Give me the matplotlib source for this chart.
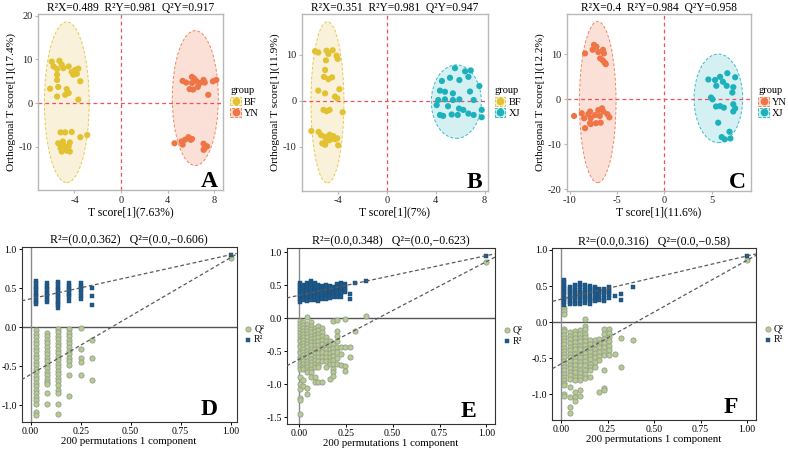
import numpy as np
import matplotlib.pyplot as plt
from matplotlib.patches import Ellipse, Patch
from matplotlib.lines import Line2D

plt.rcParams['font.family'] = ['Liberation Serif', 'DejaVu Serif']
plt.rcParams['axes.unicode_minus'] = False

# group colours (points / ellipse fill)
pt_col = {'BF': '#e2c230', 'YN': '#ef7547', 'XJ': '#1db2bb'}
fill_col = {'BF': '#f9efd3', 'YN': '#fbdbd0', 'XJ': '#cdeef1'}

# ---- OPLS-DA score data ----
a_bf_x = [-5.96, -5.3, -5.8, -5.5, -4.96, -4.5, -5.1, -3.95, -3.67, -4.24, -3.8, -4.1, -5.5, -3.5,
          -5.5, -6.1, -5.4, -4.67, -4.5, -4.8, -5.5, -3.67,
          -5.2, -4.8, -4.24, -5.4, -5.1, -4.8, -5.2, -4.5, -4.67, -5.1, -4.4, -3.5, -2.9, -5.0, -4.4]
a_bf_y = [9.5, 9.7, 8.4, 7.8, 8.0, 8.4, 8.8, 7.6, 7.9, 7.1, 6.7, 6.5, 6.5, 5.0,
          5.3, 3.3, 3.7, 3.2, 2.3, 1.9, 1.5, 0.8,
          -6.7, -6.7, -6.6, -9.2, -9.3, -9.9, -10.3, -9.9, -10.9, -11.1, -11.1, -7.8, -7.3, -8.8, -9.0]
a_yn_x = [5.3, 5.6, 6.1, 6.3, 6.5, 7.1, 7.2, 7.9, 8.2, 5.9, 6.2, 6.6, 7.5, 6.1, 6.8,
          4.6, 5.2, 5.5, 5.8, 6.1, 5.3, 6.0, 7.1, 7.2, 7.1, 7.4]
a_yn_y = [5.1, 4.7, 6.0, 5.6, 5.0, 5.3, 4.7, 5.0, 5.3, 3.2, 3.1, 3.7, 1.9, 4.6, 4.6,
          -9.2, -8.8, -8.4, -7.8, -8.2, -9.5, -8.4, -9.3, -10.3, -10.7, -9.9]

b_bf_x = [-5.9, -5.63, -4.95, -4.45, -4.8, -4.13, -5.0, -4.04, -5.07, -5.16, -4.8, -4.5, -5.63, -5.07,
          -3.9, -4.26, -4.07, -5.2, -4.95, -4.7, -3.63, -6.2, -5.6, -5.4, -5.07, -4.7, -4.4, -5.3,
          -5.0, -4.7, -4.26, -4.07, -4.0, -5.07]
b_bf_y = [10.8, 10.5, 10.9, 11.0, 10.2, 9.8, 8.8, 9.1, 6.7, 5.2, 4.7, 5.1, 2.2, 1.6,
          2.5, 0.9, 0.5, -2.0, -2.3, -2.0, -2.5, -6.6, -6.8, -7.5, -7.9, -7.4, -7.7, -9.3,
          -8.9, -8.6, -8.4, -8.2, -9.7, -9.6]
b_xj_x = [5.57, 6.4, 6.86, 6.67, 5.16, 5.93, 4.5, 7.57, 4.34, 4.75, 5.4, 6.8, 4.2, 4.75, 5.4,
          5.93, 7.1, 4.07, 5.0, 5.9, 6.25, 4.34, 4.6, 5.3, 5.8, 6.67, 7.1, 7.76, 7.76]
b_xj_y = [7.1, 6.4, 6.6, 5.2, 5.0, 4.5, 4.3, 3.2, 2.2, 1.95, 1.6, 2.0, 0.15, 0.3, 0.15,
          0.3, 0.15, -0.95, -1.2, -1.7, -2.0, -3.1, -3.3, -3.0, -3.1, -2.8, -3.1, -2.0, -3.6]

c_yn_x = [-8.4, -7.45, -7.2, -7.6, -7.0, -6.5, -6.4, -6.8, -6.5, -6.3, -6.2,
          -9.56, -8.75, -8.5, -8.05, -7.87, -7.8, -7.34, -7.0, -6.6, -6.84, -6.46, -6.04, -5.82,
          -7.24, -6.74, -7.87, -8.4, -7.8]
c_yn_y = [10.2, 12.1, 11.7, 11.0, 10.5, 11.0, 10.2, 9.1, 8.6, 8.1, 7.8,
          -3.7, -3.1, -4.2, -3.3, -2.7, -4.2, -3.5, -2.4, -2.0, -3.7, -2.7, -3.3, -4.0,
          -5.3, -5.2, -5.3, -6.4, -5.5]
c_xj_x = [4.66, 5.37, 5.9, 6.67, 7.5, 6.2, 5.5, 6.6, 7.3, 7.2, 4.94, 5.1, 5.9, 6.3, 5.47,
          7.3, 7.5, 7.3, 5.7, 6.9, 6.07, 7.0, 6.4]
c_xj_y = [4.4, 4.3, 5.0, 5.8, 4.9, 3.9, 3.0, 3.0, 2.7, 1.5, 0.4, 0.0, -1.5, -1.85, -1.6,
          -1.1, -2.0, -2.7, -5.2, -7.2, -8.4, -8.7, -8.9]

# confidence ellipses: centre x, centre y, width, height (data units)
a_ell = {'BF': [-4.66, 0.2, 3.85, 36.8], 'YN': [6.39, 1.15, 3.96, 30.9]}
b_ell = {'BF': [-4.88, -0.35, 2.71, 35.1], 'XJ': [5.68, -0.2, 4.1, 16.0]}
c_ell = {'YN': [-7.06, -0.62, 3.88, 35.8], 'XJ': [5.72, 0.22, 5.15, 19.7]}

a_title = 'R²X=0.489  R²Y=0.981  Q²Y=0.917'
b_title = 'R²X=0.351  R²Y=0.981  Q²Y=0.947'
c_title = 'R²X=0.4  R²Y=0.984  Q²Y=0.958'

# ---- permutation test data ----
d_x = [0.025, 0.083, 0.138, 0.193, 0.25, 0.308]
d_r2 = [[0.59, 0.56, 0.53, 0.50, 0.47, 0.44, 0.41, 0.38, 0.35, 0.32, 0.30],
        [0.56, 0.53, 0.50, 0.47, 0.44, 0.41, 0.38, 0.35, 0.32],
        [0.58, 0.55, 0.52, 0.49, 0.46, 0.43, 0.40, 0.37, 0.34, 0.31, 0.28, 0.24],
        [0.56, 0.53, 0.50, 0.47, 0.44, 0.41, 0.38, 0.34],
        [0.56, 0.53, 0.50, 0.47, 0.44, 0.40, 0.36],
        [0.50, 0.40, 0.28]]
d_q2 = [[-0.04, -0.09, -0.13, -0.18, -0.22, -0.27, -0.31, -0.36, -0.40, -0.45, -0.49, -0.54, -0.58,
         -0.63, -0.67, -0.72, -0.76, -0.81, -0.85, -0.90, -0.94, -0.98, -1.09, -1.13],
        [-0.08, -0.12, -0.17, -0.21, -0.26, -0.30, -0.35, -0.39, -0.44, -0.48, -0.53, -0.57, -0.62,
         -0.66, -0.70, -0.73, -0.85, -0.99],
        [-0.02, -0.06, -0.11, -0.15, -0.20, -0.24, -0.29, -0.33, -0.38, -0.42, -0.47, -0.51, -0.56,
         -0.60, -0.65, -0.69, -0.74, -0.80, -0.85, -0.99, -1.11],
        [-0.03, -0.07, -0.12, -0.16, -0.21, -0.25, -0.30, -0.34, -0.39, -0.44, -0.49, -0.62, -0.88],
        [-0.01, -0.28, -0.40, -0.45, -0.62],
        [-0.17, -0.39, -0.68]]

e_x = [0.004, 0.023, 0.043, 0.062, 0.084, 0.101, 0.123, 0.142, 0.164, 0.181, 0.203, 0.226, 0.247,
       0.27, 0.30, 0.356]
e_r2 = [[0.53, 0.50, 0.47, 0.44, 0.41, 0.38, 0.35, 0.32, 0.29, 0.25],
        [0.51, 0.48, 0.45, 0.42, 0.39, 0.36, 0.33, 0.30, 0.28],
        [0.53, 0.50, 0.47, 0.44, 0.41, 0.38, 0.35, 0.32, 0.29, 0.27],
        [0.57, 0.54, 0.51, 0.48, 0.45, 0.42, 0.39, 0.36, 0.33, 0.30, 0.28],
        [0.53, 0.50, 0.47, 0.44, 0.41, 0.38, 0.35, 0.32, 0.28],
        [0.51, 0.48, 0.45, 0.42, 0.39, 0.36, 0.33, 0.30, 0.27],
        [0.49, 0.46, 0.43, 0.40, 0.37, 0.34, 0.31, 0.29],
        [0.50, 0.47, 0.44, 0.41, 0.38, 0.35, 0.32, 0.29],
        [0.49, 0.46, 0.43, 0.40, 0.37, 0.34, 0.31],
        [0.47, 0.44, 0.41, 0.38, 0.35, 0.32],
        [0.52, 0.49, 0.46, 0.43, 0.40, 0.37, 0.33],
        [0.53, 0.50, 0.47, 0.44, 0.41, 0.38, 0.33],
        [0.52, 0.49, 0.46, 0.43, 0.40],
        [0.37, 0.30],
        [0.535],
        [0.56]]
e_q2 = [[-0.04, -0.08, -0.13, -0.17, -0.22, -0.26, -0.31, -0.35, -0.40, -0.44, -0.49, -0.53, -0.58,
         -0.62, -0.67, -0.72, -0.77, -0.89, -1.0, -1.07, -1.2, -1.24, -1.45],
        [-0.06, -0.10, -0.15, -0.19, -0.24, -0.28, -0.33, -0.37, -0.42, -0.46, -0.51, -0.55, -0.60,
         -0.64, -0.69, -0.73, -0.77, -0.94, -1.03],
        [0.02, -0.09, -0.14, -0.19, -0.24, -0.29, -0.34, -0.39, -0.44, -0.49, -0.54, -0.59, -0.64,
         -0.69, -0.74, -0.78, -0.82, -1.05, -1.15],
        [-0.06, -0.11, -0.16, -0.21, -0.26, -0.31, -0.36, -0.41, -0.46, -0.51, -0.56, -0.61, -0.66,
         -0.71, -0.76, -0.82, -0.89],
        [-0.14, -0.19, -0.25, -0.30, -0.36, -0.41, -0.47, -0.52, -0.58, -0.63, -0.69, -0.74, -0.89, -0.97],
        [-0.11, -0.17, -0.23, -0.29, -0.35, -0.41, -0.47, -0.53, -0.59, -0.65, -0.70, -0.74, -0.97],
        [-0.14, -0.20, -0.27, -0.33, -0.39, -0.45, -0.51, -0.58, -0.64, -0.97],
        [-0.29, -0.35, -0.41, -0.47, -0.53, -0.59, -0.65, -0.74],
        [-0.34, -0.40, -0.46, -0.52, -0.58, -0.64, -0.69, -0.92],
        [-0.04, -0.39, -0.45, -0.51, -0.57, -0.63, -0.69, -0.76, -0.82, -0.87],
        [-0.02, -0.19, -0.27, -0.35, -0.43, -0.51, -0.60, -0.69],
        [-0.44, -0.54, -0.70],
        [-0.01, -0.44, -0.72, -0.79],
        [-0.44, -0.59],
        [-0.19],
        [0.04]]

f_x = [0.016, 0.05, 0.075, 0.102, 0.129, 0.156, 0.183, 0.206, 0.233, 0.258, 0.29, 0.32, 0.385]
f_r2 = [[0.58, 0.55, 0.52, 0.49, 0.46, 0.43, 0.40, 0.37, 0.34, 0.31, 0.28, 0.24],
        [0.49, 0.46, 0.43, 0.40, 0.37, 0.34, 0.31, 0.28, 0.25],
        [0.51, 0.48, 0.45, 0.42, 0.39, 0.36, 0.33, 0.30, 0.27, 0.25],
        [0.54, 0.51, 0.48, 0.45, 0.42, 0.39, 0.36, 0.33, 0.30, 0.27, 0.25],
        [0.51, 0.48, 0.45, 0.42, 0.39, 0.36, 0.33, 0.30, 0.26],
        [0.50, 0.47, 0.44, 0.41, 0.38, 0.35, 0.32, 0.29, 0.25],
        [0.49, 0.46, 0.43, 0.40, 0.37, 0.34, 0.31, 0.29],
        [0.46, 0.43, 0.40, 0.37, 0.34, 0.30],
        [0.46, 0.43, 0.40, 0.37, 0.34, 0.31, 0.29],
        [0.49, 0.46, 0.43, 0.40, 0.37, 0.34],
        [0.36],
        [0.39, 0.31],
        [0.49]]
f_q2 = [[0.20, 0.15, 0.11, -0.09, -0.13, -0.18, -0.22, -0.27, -0.31, -0.36, -0.40, -0.45, -0.49,
         -0.54, -0.58, -0.63, -0.67, -0.72, -0.76, -0.81, -0.85, -0.88, -1.0, -1.03],
        [-0.14, -0.19, -0.24, -0.29, -0.34, -0.39, -0.44, -0.49, -0.54, -0.59, -0.64, -0.69, -0.74,
         -0.79, -0.90, -1.04, -1.18, -1.26],
        [-0.12, -0.17, -0.22, -0.28, -0.33, -0.38, -0.44, -0.49, -0.54, -0.60, -0.65, -0.70, -0.76,
         -0.81, -0.97, -1.04, -1.10],
        [-0.11, -0.16, -0.22, -0.27, -0.33, -0.38, -0.44, -0.49, -0.55, -0.60, -0.66, -0.71, -0.76,
         -0.81, -0.95, -1.02],
        [0.04, -0.05, -0.10, -0.16, -0.21, -0.27, -0.32, -0.38, -0.43, -0.49, -0.54, -0.60, -0.66,
         -0.72, -0.77],
        [-0.25, -0.30, -0.36, -0.41, -0.47, -0.52, -0.58, -0.63, -0.67, -0.76],
        [-0.25, -0.31, -0.37, -0.43, -0.49, -0.55, -0.63],
        [-0.23, -0.29, -0.35, -0.41, -0.47, -0.53, -0.97],
        [-0.09, -0.16, -0.23, -0.29, -0.35, -0.41, -0.46, -0.67, -0.92, -0.95],
        [-0.09, -0.15, -0.21, -0.27, -0.33, -0.39, -0.46],
        [-0.44],
        [-0.22, -0.63],
        [-0.25]]

# intercepts (from the titles) and the original model values at x = 1
d_int = [0.362, -0.606]
e_int = [0.348, -0.623]
f_int = [0.316, -0.58]
d_orig = [0.927, 0.89]
e_orig = [0.95, 0.86]
f_orig = [0.917, 0.857]


def score_panel(ax, groups, title, xlab, ylab, letter, xlim, ylim, xticks, yticks):
    handles = []
    for g, xs, ys, ell in groups:
        ax.add_patch(Ellipse((ell[0], ell[1]), ell[2], ell[3], facecolor=fill_col[g],
                             edgecolor=pt_col[g], ls=(0, (3, 2)), lw=0.7, alpha=0.85, zorder=1))
        ax.scatter(xs, ys, s=20, color=pt_col[g], edgecolors='none', zorder=3)
        handles.append((Patch(facecolor=fill_col[g], edgecolor=pt_col[g], ls='--', lw=0.6),
                        Line2D([], [], ls='none', marker='o', ms=4.5, color=pt_col[g])))
    ax.axhline(0, color='#f0505c', ls=(0, (3, 2.5)), lw=0.9, zorder=2)
    ax.axvline(0, color='#f0505c', ls=(0, (3, 2.5)), lw=0.9, zorder=2)
    ax.set_xlim(xlim)
    ax.set_ylim(ylim)
    ax.set_xticks(xticks)
    ax.set_yticks(yticks)
    for s in ax.spines.values():
        s.set_color('#b8b8b8')
        s.set_linewidth(1.0)
    ax.tick_params(colors='#b8b8b8', labelcolor='#222222', labelsize=7.5, length=2.5, width=0.8, pad=1.5)
    ax.set_title(title, fontsize=8.3, pad=1.5)
    ax.set_xlabel(xlab, fontsize=8.4, labelpad=1)
    ax.set_ylabel(ylab, fontsize=8.2, labelpad=2)
    ax.text(0.97, 0.015, letter, transform=ax.transAxes, ha='right', va='baseline',
            fontsize=17, fontweight='bold')
    leg = ax.legend(handles, [g[0] for g in groups], title='group', loc='center left',
                    bbox_to_anchor=(1.0, 0.5), frameon=False, fontsize=7.5, title_fontsize=7.5,
                    handlelength=1.0, handleheight=0.9, handletextpad=0.3, labelspacing=0.15,
                    borderaxespad=0.3)
    leg._legend_box.align = 'left'


def perm_panel(ax, xs, r2, q2, intc, orig, letter, ylim, yticks, xlim):
    qx = np.repeat(xs, [len(c) for c in q2])
    rx = np.repeat(xs, [len(c) for c in r2])
    qy = np.concatenate([np.array(c) for c in q2])
    ry = np.concatenate([np.array(c) for c in r2])
    ax.axhline(0, color='#555555', lw=1.0, zorder=1)
    ax.axvline(0, color='#8a8a8a', lw=1.0, zorder=1)
    ax.scatter(np.append(qx, 1.0), np.append(qy, orig[1]), s=14, marker='o', facecolor='#b7ca90',
               edgecolor='#949f8c', lw=0.6, zorder=3, label='Q²')
    ax.scatter(np.append(rx, 1.0), np.append(ry, orig[0]), s=9, marker='s', color='#1f5b8c',
               edgecolor='#194c76', lw=0.3, zorder=4, label='R²')
    ax.axline((0, intc[0]), (1, orig[0]), color='#5a5a5a', ls=(0, (3, 2)), lw=0.9, zorder=5)
    ax.axline((0, intc[1]), (1, orig[1]), color='#5a5a5a', ls=(0, (3, 2)), lw=0.9, zorder=5)
    ax.set_xlim(xlim)
    ax.set_ylim(ylim)
    ax.set_xticks([0, 0.25, 0.5, 0.75, 1.0])
    ax.set_xticklabels(['0.00', '0.25', '0.50', '0.75', '1.00'])
    ax.set_yticks(yticks)
    ax.set_yticklabels(['%.1f' % v for v in yticks])
    for s in ax.spines.values():
        s.set_color('#333333')
        s.set_linewidth(0.8)
    ax.tick_params(labelsize=7, length=2.5, width=0.7, pad=1)
    ax.set_title('R²=(0.0,%s)   Q²=(0.0,−%s)' % (intc[0], str(-intc[1])), fontsize=8.6, pad=2)
    ax.set_xlabel('200 permutations 1 component', fontsize=7.8, labelpad=0.5)
    ax.text(0.91, 0.04, letter, transform=ax.transAxes, ha='right', va='baseline',
            fontsize=17, fontweight='bold')
    ax.legend(loc='center left', bbox_to_anchor=(1.0, 0.5), frameon=False, fontsize=7,
              handlelength=0.8, handletextpad=0.2, labelspacing=0.2, borderaxespad=0.4)


fig = plt.figure(figsize=(7.88, 4.51), dpi=100)

ax_a = fig.add_axes([0.0482, 0.5787, 0.2348, 0.3902])
ax_b = fig.add_axes([0.3836, 0.5772, 0.2353, 0.3918])
ax_c = fig.add_axes([0.7192, 0.5772, 0.2339, 0.3918])
ax_d = fig.add_axes([0.0275, 0.0636, 0.2728, 0.3894])
ax_e = fig.add_axes([0.3638, 0.0599, 0.2643, 0.3909])
ax_f = fig.add_axes([0.7009, 0.0687, 0.2585, 0.3807])

score_panel(ax_a, [('BF', a_bf_x, a_bf_y, a_ell['BF']), ('YN', a_yn_x, a_yn_y, a_ell['YN'])],
            a_title, 'T score[1](7.63%)', 'Orthogonal T score[1](17.4%)', 'A',
            (-7.14, 8.77), (-19.9, 20.4), [-4, 0, 4, 8], [-10, 0, 10, 20])
score_panel(ax_b, [('BF', b_bf_x, b_bf_y, b_ell['BF']), ('XJ', b_xj_x, b_xj_y, b_ell['XJ'])],
            b_title, 'T score[1](7%)', 'Orthogonal T score[1](11.9%)', 'B',
            (-6.94, 8.25), (-19.6, 18.9), [-4, 0, 4, 8], [-10, 0, 10])
score_panel(ax_c, [('YN', c_yn_x, c_yn_y, c_ell['YN']), ('XJ', c_xj_x, c_xj_y, c_ell['XJ'])],
            c_title, 'T score[1](11.6%)', 'Orthogonal T score[1](12.2%)', 'C',
            (-10.34, 9.18), (-20.3, 18.96), [-10, -5, 0, 5], [-20, -10, 0, 10])

perm_panel(ax_d, d_x, d_r2, d_q2, d_int, d_orig, 'D', (-1.22, 1.03), [-1.0, -0.5, 0.0, 0.5, 1.0], (-0.045, 1.03))
perm_panel(ax_e, e_x, e_r2, e_q2, e_int, e_orig, 'E', (-1.6, 1.07), [-1.5, -1.0, -0.5, 0.0, 0.5, 1.0], (-0.065, 1.045))
perm_panel(ax_f, f_x, f_r2, f_q2, f_int, f_orig, 'F', (-1.36, 1.023), [-1.0, -0.5, 0.0, 0.5, 1.0], (-0.047, 1.048))

fig.savefig('out.png', dpi=100)
